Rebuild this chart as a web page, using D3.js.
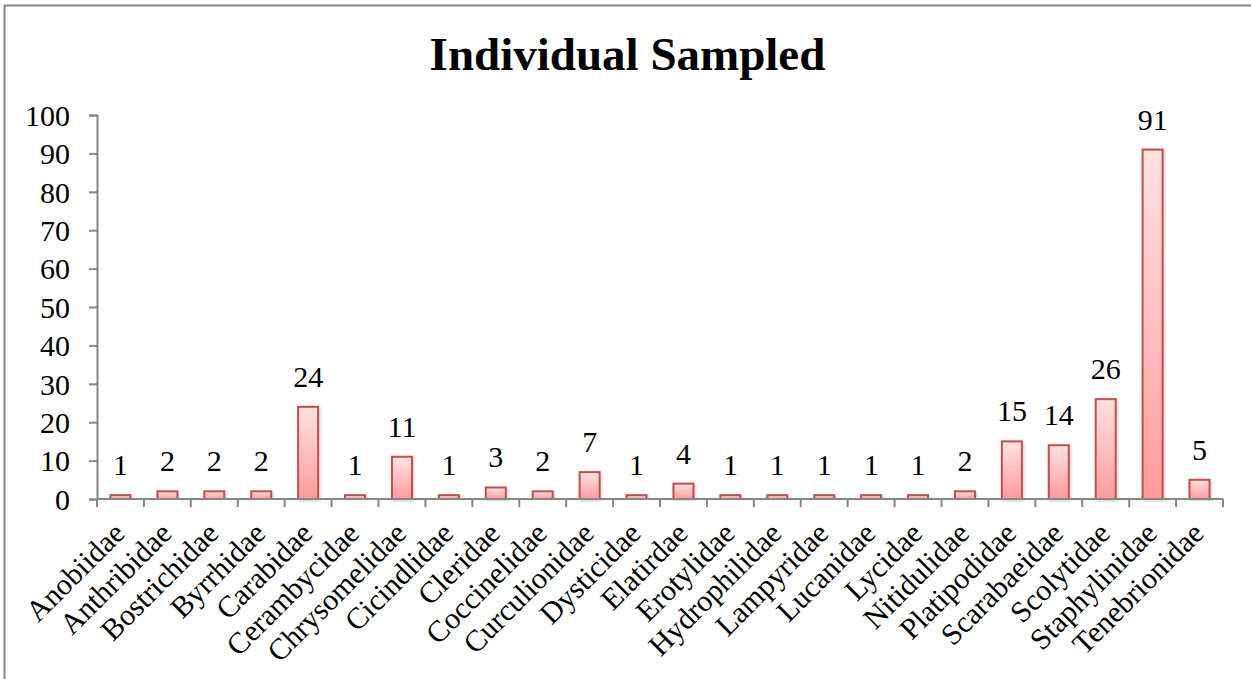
<!DOCTYPE html>
<html>
<head>
<meta charset="utf-8">
<script src="https://cdn.jsdelivr.net/npm/d3@7"></script>
<style>
  html, body { margin: 0; padding: 0; background: #fff; }
  svg { display: block; }
</style>
</head>
<body>
<script>
const families = ["Anobiidae", "Anthribidae", "Bostrichidae", "Byrrhidae", "Carabidae",
  "Cerambycidae", "Chrysomelidae", "Cicindlidae", "Cleridae", "Coccinelidae",
  "Curculionidae", "Dysticidae", "Elatirdae", "Erotylidae", "Hydrophilidae",
  "Lampyridae", "Lucanidae", "Lycidae", "Nitidulidae", "Platipodidae",
  "Scarabaeidae", "Scolytidae", "Staphylinidae", "Tenebrionidae"];
const counts = [1, 2, 2, 2, 24, 1, 11, 1, 3, 2, 7, 1, 4, 1, 1, 1, 1, 1, 2, 15, 14, 26, 91, 5];
const yTicks = [0, 10, 20, 30, 40, 50, 60, 70, 80, 90, 100];
const chartTitle = "Individual Sampled";

const W = 1251, H = 679;
const serif = "'Liberation Serif', 'Times New Roman', serif";
const axisColor = "#868686";

const svg = d3.select("body").append("svg").attr("width", W).attr("height", H);

const defs = svg.append("defs");
const grad = defs.append("linearGradient")
  .attr("id", "barFill").attr("x1", 0).attr("y1", 0).attr("x2", 0).attr("y2", 1);
grad.append("stop").attr("offset", "0%").attr("stop-color", "#ffe2e2");
grad.append("stop").attr("offset", "100%").attr("stop-color", "#ff9b9b");

const shadow = defs.append("filter").attr("id", "barShadow")
  .attr("x", "-30%").attr("y", "-10%").attr("width", "160%").attr("height", "120%");
shadow.append("feDropShadow").attr("dx", 1).attr("dy", 1).attr("stdDeviation", 1.5)
  .attr("flood-color", "#000").attr("flood-opacity", 0.22);

// chart frame
svg.append("rect")
  .attr("x", 4.5).attr("y", 5.5).attr("width", 1300).attr("height", 720)
  .attr("fill", "none").attr("stroke", axisColor).attr("stroke-width", 2);

const x = d3.scaleBand().domain(families).range([97, 1223]).paddingInner(0).paddingOuter(0);
const y = d3.scaleLinear().domain([0, 100]).range([499, 115]);
const barW = 20;

// title
svg.append("text")
  .attr("x", 627.5).attr("y", 70)
  .attr("text-anchor", "middle")
  .attr("font-family", serif).attr("font-weight", "bold").attr("font-size", 47)
  .attr("fill", "#000")
  .text(chartTitle);

// y axis
const yAxis = svg.append("g").attr("transform", "translate(97,0)")
  .call(d3.axisLeft(y).tickValues(yTicks).tickSize(8).tickPadding(19));
yAxis.select(".domain").attr("stroke", axisColor).attr("stroke-width", 2);
yAxis.selectAll(".tick line").attr("stroke", axisColor).attr("stroke-width", 2);
yAxis.selectAll(".tick text")
  .attr("font-family", serif).attr("font-size", 30).attr("fill", "#000")
  .attr("dy", "0.34em");

// bars
svg.append("g").selectAll("rect").data(counts).join("rect")
  .attr("x", (d, i) => x(families[i]) + x.bandwidth() / 2 - barW / 2)
  .attr("y", d => y(d))
  .attr("width", barW)
  .attr("height", d => y(0) - y(d))
  .attr("fill", "url(#barFill)")
  .attr("stroke", "#c0504d")
  .attr("stroke-width", 2)
  .attr("filter", "url(#barShadow)");

// x axis with ticks at category boundaries
const xAxisG = svg.append("g");
xAxisG.append("line")
  .attr("x1", x.range()[0]).attr("x2", x.range()[1])
  .attr("y1", y(0)).attr("y2", y(0))
  .attr("stroke", axisColor).attr("stroke-width", 2);
const bounds = families.map(f => x(f)).concat([x.range()[1]]);
xAxisG.selectAll("line.tick").data(bounds).join("line")
  .attr("class", "tick")
  .attr("x1", d => d).attr("x2", d => d)
  .attr("y1", y(0)).attr("y2", y(0) + 8)
  .attr("stroke", axisColor).attr("stroke-width", 2);

// category labels
svg.append("g").selectAll("text").data(families).join("text")
  .attr("transform", d => `translate(${x(d) + x.bandwidth() / 2 + 6},${y(0) + 36}) rotate(-45)`)
  .attr("text-anchor", "end")
  .attr("font-family", serif).attr("font-size", 30).attr("fill", "#000")
  .text(d => d);

// value labels
svg.append("g").selectAll("text").data(counts).join("text")
  .attr("x", (d, i) => x(families[i]) + x.bandwidth() / 2)
  .attr("y", d => y(d) - 20)
  .attr("text-anchor", "middle")
  .attr("font-family", serif).attr("font-size", 30).attr("fill", "#000")
  .text(d => d);
</script>
</body>
</html>
